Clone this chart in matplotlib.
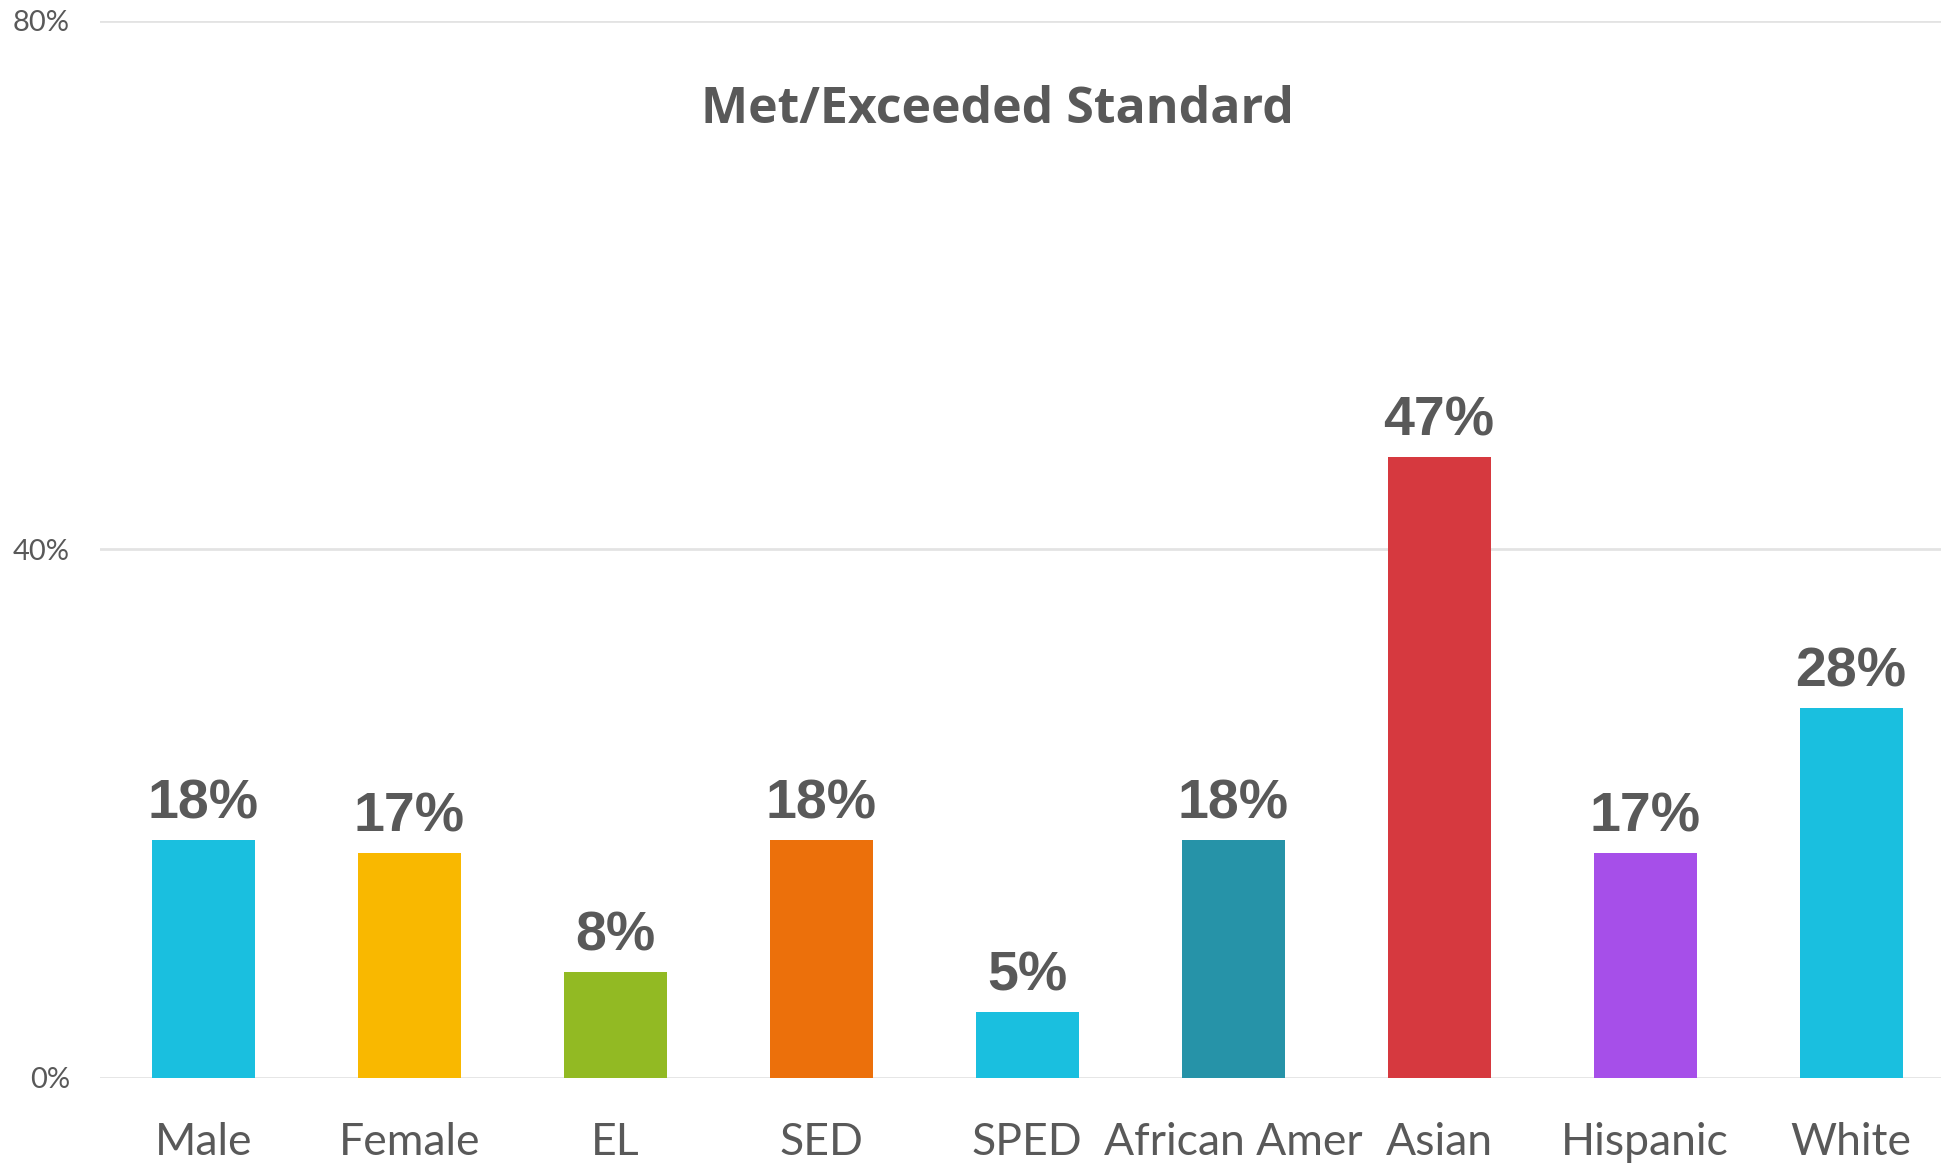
import matplotlib
matplotlib.use("Agg")
import matplotlib.pyplot as plt
from matplotlib.ticker import FuncFormatter

categorias = ["Male", "Female", "EL", "SED", "SPED", "African Amer", "Asian", "Hispanic", "White"]
valores = [18, 17, 8, 18, 5, 18, 47, 17, 28]
cores = ["#1ABFDF", "#F9B800", "#92BA23", "#EC700B", "#1ABFDF",
         "#2693A8", "#D6393F", "#A64FE9", "#1ABFDF"]
rotulos = ["18%", "17%", "8%", "18%", "5%", "18%", "47%", "17%", "28%"]
y_ticks = [0, 40, 80]

cinza = "#595959"

fig = plt.figure(figsize=(19.41, 11.65), dpi=100)
ax = fig.add_axes([0.0517, 0.0747, 0.955, 0.9073])

x = range(len(categorias))
barras = ax.bar(x, valores, width=0.5, color=cores, zorder=3)

for b, r in zip(barras, rotulos):
    ax.annotate(r, (b.get_x() + b.get_width() / 2, b.get_height()),
                xytext=(0, 7), textcoords="offset points",
                ha="center", va="bottom", fontsize=40, fontweight="bold",
                family="Liberation Sans", color=cinza)

ax.set_xlim(-0.5, len(categorias) - 0.5)
ax.set_ylim(0, 80)
ax.set_yticks(y_ticks)
ax.yaxis.set_major_formatter(FuncFormatter(lambda v, p: f"{int(v)}%"))
ax.set_xticks(list(x))
ax.set_xticklabels(categorias)

for s in ax.spines.values():
    s.set_visible(False)
ax.grid(axis="y", color="#E3E3E3", linewidth=2, zorder=0)
ax.tick_params(axis="x", length=0, pad=32, labelsize=32, labelcolor=cinza)
ax.tick_params(axis="y", length=0, pad=22, labelsize=21, labelcolor=cinza)
for t in ax.get_xticklabels() + ax.get_yticklabels():
    t.set_family("Lato")

fig.text(0.514, 0.906, "Met/Exceeded Standard", ha="center", va="center",
         fontsize=36, fontweight="bold", family="Open Sans", color=cinza)

fig.savefig("out.png", dpi=100, facecolor="white")
